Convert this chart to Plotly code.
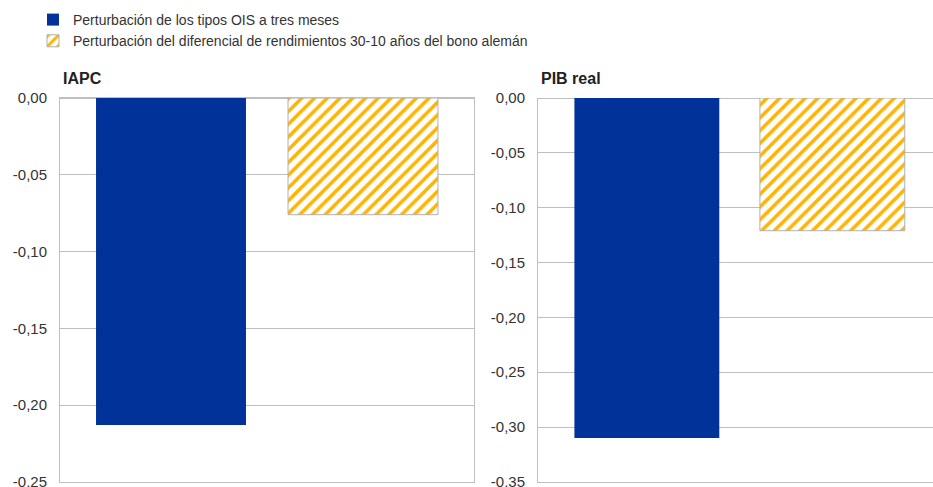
import plotly.graph_objects as go

series_names = ["Perturbación de los tipos OIS a tres meses",
                "Perturbación del diferencial de rendimientos 30-10 años del bono alemán"]
panel_titles = ["IAPC", "PIB real"]
iapc_values = [-0.213, -0.076]
pib_values = [-0.310, -0.121]
category = [""]
iapc_ticks = [0.0, -0.05, -0.10, -0.15, -0.20, -0.25]
iapc_ticklabels = ["0,00", "-0,05", "-0,10", "-0,15", "-0,20", "-0,25"]
pib_ticks = [0.0, -0.05, -0.10, -0.15, -0.20, -0.25, -0.30, -0.35]
pib_ticklabels = ["0,00", "-0,05", "-0,10", "-0,15", "-0,20", "-0,25", "-0,30", "-0,35"]

BLUE = "#003299"
ORANGE = "#FFB400"
GRID = "#BFBFBF"
FONT = "Liberation Sans, Arial, sans-serif"

fig = go.Figure()

for panel, vals in enumerate([iapc_values, pib_values]):
    xa = "x" if panel == 0 else "x2"
    ya = "y" if panel == 0 else "y2"
    fig.add_trace(go.Bar(
        x=category, y=[vals[0]], name=series_names[0], xaxis=xa, yaxis=ya,
        marker=dict(color=BLUE, line=dict(color=BLUE, width=0)),
        showlegend=(panel == 0), legendgroup="a", hoverinfo="y"))
    fig.add_trace(go.Bar(
        x=category, y=[vals[1]], name=series_names[1], xaxis=xa, yaxis=ya,
        marker=dict(color="white", line=dict(color="#B0B0B0", width=1),
                    pattern=dict(shape="/", fgcolor=ORANGE, bgcolor="white",
                                 size=9, solidity=0.4, fillmode="replace",
                                 fgopacity=1)),
        showlegend=(panel == 0), legendgroup="b", hoverinfo="y"))

H = 487
W = 933
ytop = (H - 98) / H
ybot = (H - 482) / H

common_y = dict(showgrid=True, gridcolor=GRID, gridwidth=1, zeroline=True,
                zerolinecolor=GRID, zerolinewidth=1, showline=True,
                linecolor=GRID, linewidth=1, ticks="",
                tickfont=dict(family=FONT, size=15, color="#333333"),
                ticklabelstandoff=9, ticklabeloverflow="allow")

fig.update_layout(
    width=W, height=H,
    margin=dict(l=0, r=0, t=0, b=0, autoexpand=False),
    paper_bgcolor="white", plot_bgcolor="white",
    barmode="group", bargap=0.0725, bargroupgap=0.219,
    font=dict(family=FONT, size=14, color="#333333"),
    xaxis=dict(domain=[60 / W, 474 / W], range=[-0.5, 0.5], showticklabels=False,
               showline=True, linecolor=GRID, mirror=True, showgrid=False,
               anchor="y"),
    xaxis2=dict(domain=[538 / W, 1.0], range=[-0.504, 0.4835],
                showticklabels=False, showline=True, linecolor=GRID,
                mirror=False, showgrid=False, anchor="y2"),
    yaxis=dict(domain=[ybot, ytop], range=[-0.2501, 0.0], anchor="x", mirror=True,
               tickvals=iapc_ticks, ticktext=iapc_ticklabels, **common_y),
    yaxis2=dict(domain=[ybot, ytop], range=[-0.3501, 0.0], anchor="x2", mirror=False,
                tickvals=pib_ticks, ticktext=pib_ticklabels, **common_y),
    legend=dict(x=33 / W, y=1 - 4 / H, xanchor="left", yanchor="top",
                font=dict(family=FONT, size=14, color="#333333"),
                tracegroupgap=0, itemwidth=30, bgcolor="rgba(0,0,0,0)"),
    annotations=[
        dict(text="<b>" + panel_titles[0] + "</b>", x=61 / W, y=1 - 78 / H,
             xref="paper", yref="paper", xanchor="left", yanchor="middle",
             showarrow=False, font=dict(family=FONT, size=16, color="#222222")),
        dict(text="<b>" + panel_titles[1] + "</b>", x=539 / W, y=1 - 78 / H,
             xref="paper", yref="paper", xanchor="left", yanchor="middle",
             showarrow=False, font=dict(family=FONT, size=16, color="#222222")),
    ],
)

fig.write_html("out.html", config={"displayModeBar": False},
               post_script="document.body.style.margin='0';")
